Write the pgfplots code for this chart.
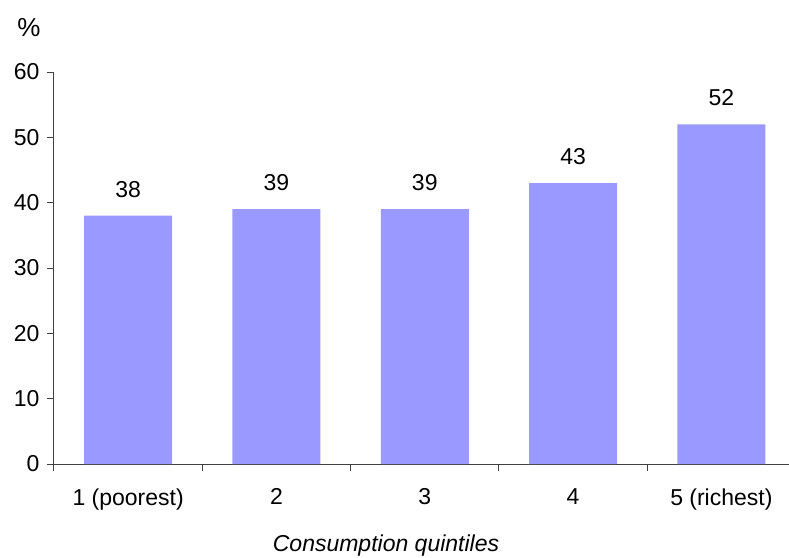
\documentclass[border=0pt]{standalone}
\usepackage{pgfplots}
\pgfplotsset{compat=1.18}
\usepackage{fontspec}
\setmainfont{Liberation Sans}
\definecolor{barblue}{RGB}{153,153,255}
\definecolor{axisgray}{RGB}{64,64,64}

\begin{document}
\begin{tikzpicture}[font=\fontsize{23}{27}\selectfont]
\begin{axis}[
  at={(0pt,0pt)}, anchor=south west,
  scale only axis,
  width=735pt, height=392pt,
  xmin=-0.5, xmax=4.456,
  ymin=0, ymax=60,
  ytick={0,10,...,60},
  % tick marks between the categories
  xtick={-0.5,0.5,1.5,2.5,3.5},
  xticklabels={},
  % category names centred under the bars, without marks
  extra x ticks={0,1,2,3,4},
  extra x tick labels={1 (poorest),2,3,4,5 (richest)},
  extra x tick style={major tick length=0pt},
  xticklabel style={yshift=-21pt},
  major tick length=7pt,
  tick style={axisgray, line width=1pt},
  tick align=outside,
  axis x line*=bottom,
  axis y line*=left,
  axis line style={axisgray, line width=1pt, -},
  /pgf/number format/assume math mode=true,
  yticklabel style={xshift=-4pt},
  ybar,
  bar width=88pt,
  nodes near coords,
  nodes near coords style={anchor=south, inner sep=0pt, yshift=18pt},
  clip=false,
]
\addplot[fill=barblue, draw=none] coordinates {(0,38) (1,39) (2,39) (3,43) (4,52)};
\node at (rel axis cs:0,1) [xshift=-25pt, yshift=44pt, font=\fontsize{26}{30}\selectfont] {\%};
\node at (rel axis cs:0,0) [xshift=332pt, yshift=-82pt] {\itshape Consumption quintiles};
\end{axis}
\pgfresetboundingbox
\path[use as bounding box] (-54pt,-93pt) rectangle (735pt,464pt);
\end{tikzpicture}
\end{document}
